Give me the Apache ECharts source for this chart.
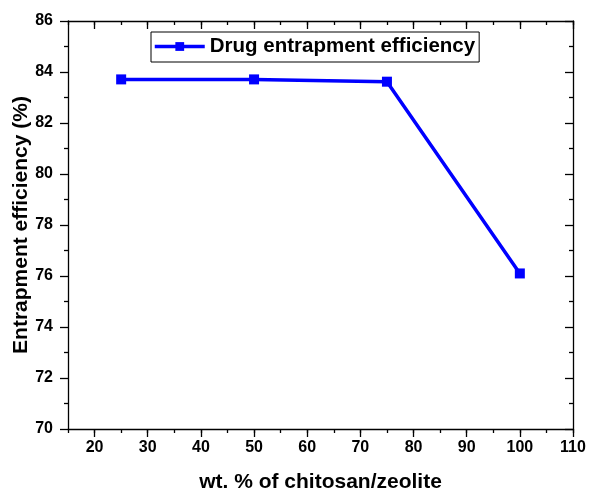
<!DOCTYPE html>
<html>
<head>
<meta charset="utf-8">
<script src="https://cdn.jsdelivr.net/npm/echarts@6/dist/echarts.min.js"></script>
<style>html,body{margin:0;padding:0;background:#fff;}#c{width:589px;height:491px;}</style>
</head>
<body>
<div id="c"></div>
<script>
const xValues = [25, 50, 75, 100];
const efficiency = [83.71, 83.71, 83.62, 76.1];
const seriesName = 'Drug entrapment efficiency';
const xMajorTicks = [20, 30, 40, 50, 60, 70, 80, 90, 100, 110];
const xTitle = 'wt. % of chitosan/zeolite';
const yTitle = 'Entrapment efficiency (%)';

const font = 'Arial, "Liberation Sans", sans-serif';
const chart = echarts.init(document.getElementById('c'));
const grid = {left: 68, top: 21, right: 16, bottom: 62, containLabel: false, outerBoundsMode: 'none'};
const lineStyle = {color: '#000', width: 1.3};
chart.setOption({
  animation: false,
  grid: grid,
  legend: {
    left: 151, top: 32,
    itemWidth: 50, itemHeight: 11, itemGap: 5,
    padding: [4, 4, 5, 2],
    borderColor: '#000', borderWidth: 1, borderRadius: 0,
    lineStyle: {width: 3.5, color: '#0000ff'},
    textStyle: {fontFamily: font, fontWeight: 'bold', fontSize: 20.5, color: '#000'},
    data: [seriesName]
  },
  xAxis: [
    {
      type: 'value', min: 15, max: 110, position: 'bottom',
      axisLine: {show: true, onZero: false, lineStyle: lineStyle},
      axisTick: {show: true, length: 8, customValues: xMajorTicks, lineStyle: lineStyle},
      axisLabel: {customValues: xMajorTicks, margin: 11, fontFamily: font, fontWeight: 'bold', fontSize: 16, color: '#000'},
      splitLine: {show: false},
      name: xTitle, nameLocation: 'middle', nameGap: 43, nameMoveOverlap: false,
      nameTextStyle: {fontFamily: font, fontWeight: 'bold', fontSize: 21, color: '#000'}
    },
    {
      type: 'value', min: 15, max: 110, interval: 5, position: 'bottom',
      axisLine: {show: false, onZero: false},
      axisTick: {show: true, length: 4, lineStyle: lineStyle},
      axisLabel: {show: false}, splitLine: {show: false}
    },
    {
      type: 'value', min: 15, max: 110, position: 'top',
      axisLine: {show: true, onZero: false, lineStyle: lineStyle},
      axisTick: {show: true, inside: true, length: 8, customValues: xMajorTicks, lineStyle: lineStyle},
      axisLabel: {show: false}, splitLine: {show: false}
    },
    {
      type: 'value', min: 15, max: 110, interval: 5, position: 'top',
      axisLine: {show: false, onZero: false},
      axisTick: {show: true, inside: true, length: 4, lineStyle: lineStyle},
      axisLabel: {show: false}, splitLine: {show: false}
    }
  ],
  yAxis: [
    {
      type: 'value', min: 70, max: 86, interval: 2, position: 'left',
      axisLine: {show: true, onZero: false, lineStyle: lineStyle},
      axisTick: {show: true, length: 8, lineStyle: lineStyle},
      minorTick: {show: true, splitNumber: 2, length: 4, lineStyle: lineStyle},
      axisLabel: {margin: 15, fontFamily: font, fontWeight: 'bold', fontSize: 16, color: '#000'},
      splitLine: {show: false},
      name: yTitle, nameLocation: 'middle', nameGap: 36, nameMoveOverlap: false,
      nameTextStyle: {fontFamily: font, fontWeight: 'bold', fontSize: 21, color: '#000'}
    },
    {
      type: 'value', min: 70, max: 86, interval: 2, position: 'right',
      axisLine: {show: true, onZero: false, lineStyle: lineStyle},
      axisTick: {show: true, inside: true, length: 8, lineStyle: lineStyle},
      minorTick: {show: true, splitNumber: 2, length: 4, lineStyle: lineStyle},
      axisLabel: {show: false}, splitLine: {show: false}
    }
  ],
  series: [{
    name: seriesName,
    type: 'line',
    xAxisIndex: 0, yAxisIndex: 0,
    data: xValues.map((x, i) => [x, efficiency[i]]),
    symbol: 'rect', symbolSize: 10,
    lineStyle: {color: '#0000ff', width: 3.5},
    itemStyle: {color: '#0000ff'},
    z: 5
  }]
});
</script>
</body>
</html>
